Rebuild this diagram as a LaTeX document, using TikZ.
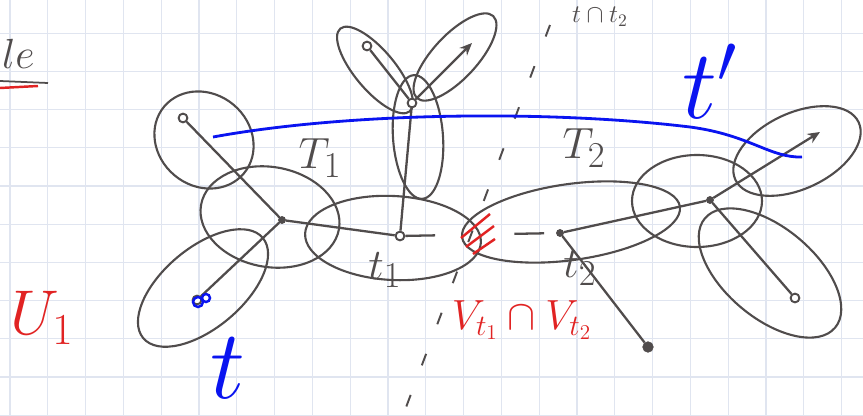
\RequirePackage{fix-cm}
\documentclass[tikz,border=0pt]{standalone}
\usepackage{tikz}
\usetikzlibrary{arrows.meta,positioning}
\definecolor{pencil}{RGB}{80,76,76}
\definecolor{inkblue}{RGB}{10,20,240}
\definecolor{inkred}{RGB}{225,35,35}
\definecolor{paper}{RGB}{224,229,240}
\tikzset{
    vertex/.style = {circle, draw=pencil, line width=1.1pt, inner sep=0pt, minimum size=5pt, fill=white},
    solidvertex/.style = {circle, draw=pencil, fill=pencil, inner sep=0pt, minimum size=4pt},
    bag/.style = {draw=pencil, line width=1.2pt},
    link/.style = {draw=pencil, line width=1.3pt},
    gridline/.style = {draw=paper, line width=0.6pt},
    pencilnote/.style = {text=pencil, font=\Huge},
    bluenote/.style = {text=inkblue, font=\fontsize{56}{56}\selectfont, inner sep=0pt},
    rednote/.style = {text=inkred, font=\fontsize{24}{24}\selectfont},
    cutline/.style = {draw=pencil, line width=1.1pt, dash pattern=on 7pt off 18pt},
    hatch/.style = {draw=inkred, line width=1.4pt}
}

\begin{document}
\begin{tikzpicture}[x=0.02cm, y=-0.02cm]
    \useasboundingbox (0,0) rectangle (863,416);
    \clip (0,0) rectangle (863,416);
    \fill[white] (0,0) rectangle (863,416);

    % Paper grid
    \foreach \i in {0,...,22}
        \draw[gridline] (10+37.8*\i,0) -- (10+37.8*\i,416);
    \foreach \j in {0,...,11}
        \draw[gridline] (0,-5+38.2*\j) -- (863,-5+38.2*\j);

    % Bags
    \draw[bag, rotate around={-40:(204,140)}] (204,140) ellipse [x radius=52, y radius=46];
    \draw[bag, rotate around={-10:(270,217)}] (270,217) ellipse [x radius=70, y radius=50];
    \draw[bag, rotate around={40:(203,288)}] (203,288) ellipse [x radius=78, y radius=40];
    \draw[bag, rotate around={-3:(393,238)}] (393,238) ellipse [x radius=88, y radius=42];
    \draw[bag, rotate around={8:(571,222)}] (571,222) ellipse [x radius=110, y radius=38];
    \draw[bag, rotate around={4:(418,137)}] (418,137) ellipse [x radius=25, y radius=62];
    \draw[bag, rotate around={130:(375,70)}] (375,70) ellipse [x radius=54, y radius=20];
    \draw[bag, rotate around={47:(455,57)}] (455,57) ellipse [x radius=56, y radius=22];
    \draw[bag] (697,201) ellipse [x radius=65, y radius=46];
    \draw[bag, rotate around={25:(797,151)}] (797,151) ellipse [x radius=68, y radius=38];
    \draw[bag, rotate around={-40:(770,273)}] (770,273) ellipse [x radius=85, y radius=45];

    % Separator
    \draw[cutline] (550,25) -- (405,410);

    % Intersection of the two bags
    \draw[hatch] (461,238) -- (490,214);
    \draw[hatch] (466,247) -- (494,226);
    \draw[hatch] (473,254) -- (495,239);

    % Vertices
    \node[vertex] (a) at (183,118) {};
    \node[solidvertex] (b) at (282,220) {};
    \node[vertex] (c) at (197,300) {};
    \node[vertex] (t1v) at (400,236) {};
    \node[solidvertex] (t2v) at (560,233) {};
    \node[vertex] (tc) at (412,103) {};
    \node[vertex] (tl) at (367,46) {};
    \coordinate (tr) at (472,43);
    \node[solidvertex] (rc) at (710,200) {};
    \coordinate (ru) at (820,132);
    \node[vertex] (rl) at (795,298) {};
    \node[solidvertex, minimum size=6pt] (bd) at (648,347) {};

    % Edges
    \draw[link] (a) -- (b);
    \draw[link] (b) -- (c);
    \draw[link] (b) -- (t1v);
    \draw[link, dash pattern=on 17pt off 45pt] (t1v) -- (t2v);
    \draw[link] (t1v) -- (tc);
    \draw[link] (tc) -- (tl);
    \draw[link, -{Stealth[length=7pt, width=6pt]}] (tc) -- (tr);
    \draw[link] (t2v) -- (rc);
    \draw[link, -{Stealth[length=7pt, width=6pt]}] (rc) -- (ru);
    \draw[link] (rc) -- (rl);
    \draw[link] (t2v) -- (bd);

    % Blue marks
    \draw[inkblue, line width=1.4pt] (c) ++(1,2) circle [radius=5];
    \draw[inkblue, line width=1.4pt] (c) ++(9,-2) circle [radius=4];
    \coordinate (bluestart) at (213,137);
    \coordinate (blueend) at (802,157);
    \draw[inkblue, line width=1.6pt] (bluestart) .. controls (350,112) and (550,110) .. (690,127)
        .. controls (750,135) and (770,158) .. (blueend);

    % Labels
    \node[pencilnote] (T1) at (320,158) {$T_1$};
    \node[pencilnote] (T2) at (584,148) {$T_2$};
    \node[pencilnote] (t1) at (385,270) {$t_1$};
    \node[pencilnote] (t2) at (580,268) {$t_2$};
    \node[bluenote, anchor=base] (t) at (228,398) {$t$};
    \node[bluenote, anchor=base] (tprime) at (710,118) {$t'$};
    \node[rednote] (cap) at (522,320) {$V_{t_1}\cap V_{t_2}$};
    \node[text=inkred, font=\fontsize{36}{36}\selectfont] (U1) at (42,318) {$U_1$};
    \node[text=pencil, font=\fontsize{24}{24}\selectfont, anchor=base west] (le) at (-4,68) {$le$};
    \node[text=pencil, font=\Large, inner sep=1pt, anchor=north] (top) at (600,5) {$t\cap t_2$};
    \draw[pencil, line width=1pt] (0,81) -- (48,83);
    \draw[inkred, line width=1.4pt] (0,88) -- (38,86);
\end{tikzpicture}
\end{document}
